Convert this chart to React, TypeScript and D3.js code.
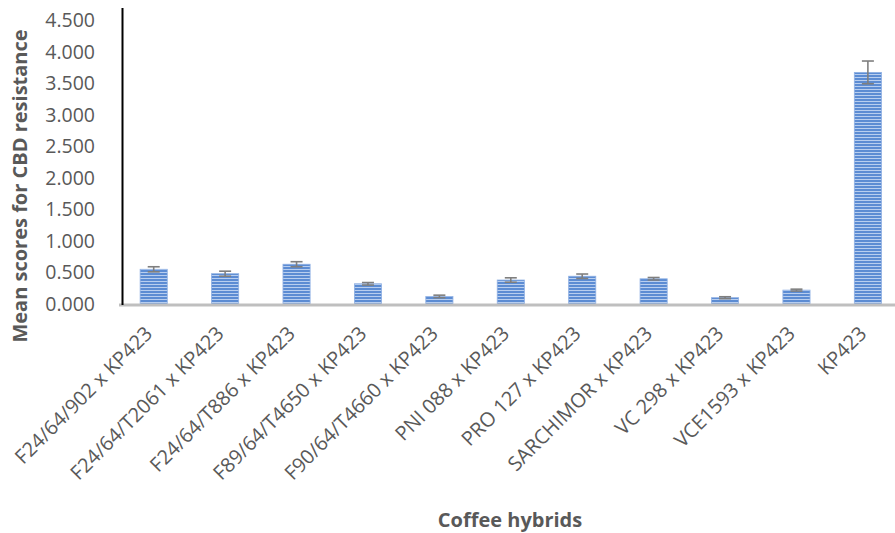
import React from "react";
import * as d3 from "d3";

const categories = [
  "F24/64/902 x KP423",
  "F24/64/T2061 x KP423",
  "F24/64/T886 x KP423",
  "F89/64/T4650 x KP423",
  "F90/64/T4660 x KP423",
  "PNI 088 x KP423",
  "PRO 127 x KP423",
  "SARCHIMOR x KP423",
  "VC 298 x KP423",
  "VCE1593 x KP423",
  "KP423",
];
const means = [0.55, 0.48, 0.63, 0.32, 0.12, 0.38, 0.44, 0.4, 0.1, 0.22, 3.67];
const errors = [0.04, 0.04, 0.04, 0.02, 0.02, 0.035, 0.035, 0.02, 0.015, 0.015, 0.18];
const yTicks = [0, 0.5, 1, 1.5, 2, 2.5, 3, 3.5, 4, 4.5];

const W = 895;
const H = 533;

export default function App() {
  const x = d3.scaleBand<string>().domain(categories).range([118, 903.6]).paddingInner(0.62).paddingOuter(0.31);
  const y = d3.scaleLinear().domain([0, 4.5]).range([304, 20]);
  const font = "'Open Sans', sans-serif";
  return (
    <svg width={W} height={H} style={{ position: "absolute", left: 0, top: 0, background: "#fff" }}>
      <defs>
        <pattern id="stripes" width="6" height="3" patternUnits="userSpaceOnUse">
          <rect width="6" height="3" fill="#5C8CD3" />
          <rect y="2" width="6" height="1" fill="#B8CEEF" />
        </pattern>
      </defs>
      {yTicks.map((t) => (
        <text key={t} x={95} y={y(t)} dy="0.36em" textAnchor="end" fontFamily={font} fontSize={19.5} fill="#595959">
          {t.toFixed(3)}
        </text>
      ))}
      {categories.map((c, i) => {
        const bx = x(c)!;
        const bw = x.bandwidth();
        const cx = bx + bw / 2;
        return (
          <g key={c}>
            <rect x={bx} y={y(means[i])} width={bw} height={y(0) - y(means[i])} fill="url(#stripes)" stroke="#8FB0E3" strokeWidth={0.8} />
            <line x1={cx} x2={cx} y1={y(means[i] + errors[i])} y2={y(means[i] - errors[i])} stroke="#7F7F7F" strokeWidth={1.6} />
            <line x1={cx - 6} x2={cx + 6} y1={y(means[i] + errors[i])} y2={y(means[i] + errors[i])} stroke="#7F7F7F" strokeWidth={1.6} />
            <line x1={cx - 6} x2={cx + 6} y1={y(means[i] - errors[i])} y2={y(means[i] - errors[i])} stroke="#7F7F7F" strokeWidth={1.6} />
          </g>
        );
      })}
      <line x1={119} x2={W} y1={305} y2={305} stroke="#BFBFBF" strokeWidth={3} />
      <line x1={122.5} x2={122.5} y1={8} y2={305} stroke="#000" strokeWidth={2} />
      {categories.map((c) => {
        const cx = x(c)! + x.bandwidth() / 2;
        return (
          <text key={c} transform={`translate(${cx - 10},${325}) rotate(-45)`} textAnchor="end" dy="0.7em" fontFamily={font} fontSize={20} fill="#595959">
            {c}
          </text>
        );
      })}
      <text x={510} y={527} textAnchor="middle" fontFamily={font} fontSize={20} fontWeight="bold" fill="#595959">
        Coffee hybrids
      </text>
      <text transform={`translate(27,186) rotate(-90)`} textAnchor="middle" fontFamily={font} fontSize={20} fontWeight="bold" fill="#595959">
        Mean scores for CBD resistance
      </text>
    </svg>
  );
}
